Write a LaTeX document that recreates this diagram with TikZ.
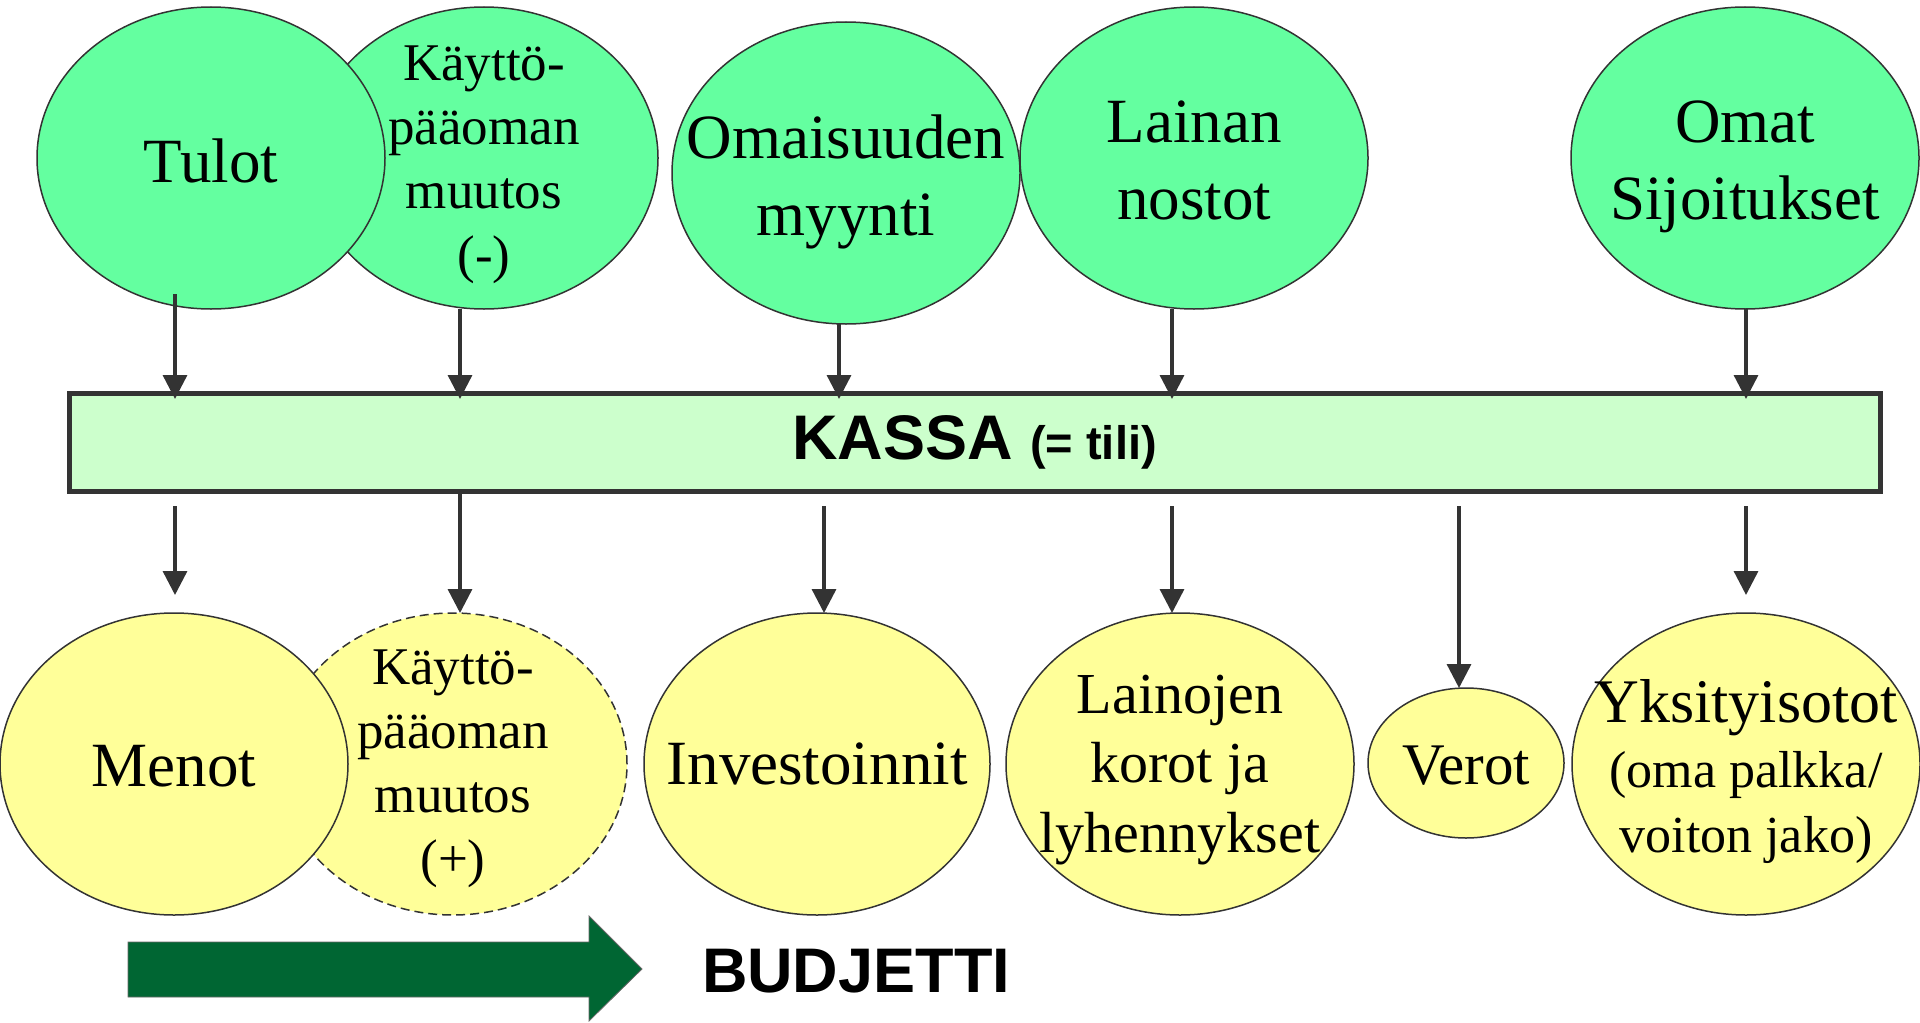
\documentclass[tikz,border=0pt]{standalone}
\usepackage{fontspec}
\setmainfont{Liberation Serif}
\newfontfamily\arialfont{Liberation Sans}
\usetikzlibrary{arrows.meta,calc,shapes.geometric}
\definecolor{topgreen}{RGB}{100,255,160}
\definecolor{botyellow}{RGB}{255,255,153}
\definecolor{kassagreen}{RGB}{204,255,204}
\definecolor{linegray}{RGB}{51,51,51}
\definecolor{darkgreen}{RGB}{0,102,51}
\begin{document}
\begin{tikzpicture}[x=0.5pt,y=-0.5pt,
  bubble/.style={ellipse, draw=linegray, line width=0.75pt, inner sep=0pt, outer sep=0pt,
                 minimum width=174pt, minimum height=151pt},
  topbubble/.style={bubble, fill=topgreen},
  botbubble/.style={bubble, fill=botyellow},
  lbl/.style={align=center, inner sep=0pt, outer sep=0pt, text=black},
  fbig/.style={font=\fontsize{31.5}{38.5}\selectfont},
  fmid/.style={font=\fontsize{29}{34.75}\selectfont},
  fsmall/.style={font=\fontsize{26.5}{32}\selectfont},
  fyks/.style={font=\fontsize{26}{32.5}\selectfont},
  sansbold/.style={font=\arialfont\bfseries\fontsize{31.5}{36}\selectfont},
  arr/.style={draw=linegray, line width=1.7pt, -{Triangle[width=12pt,length=12pt]}},
]
\useasboundingbox (0,0) rectangle (1920,1022);

% ---- top row (sources) ----
\node[topbubble, label={[lbl,fsmall,yshift=-3.35pt]center:Käyttö-\\pääoman\\muutos\\(-)}] (kminus) at (484,158) {};
\node[topbubble, label={[lbl,fbig,yshift=-1.4pt]center:Tulot}] (tulot) at (211,158) {};
\node[topbubble, label={[lbl,fbig,yshift=-4.45pt]center:Omaisuuden\\myynti}] (omais) at (846,173) {};
\node[topbubble, label={[lbl,fbig,yshift=-1.15pt]center:Lainan\\nostot}] (lainan) at (1194,158) {};
\node[topbubble, label={[lbl,fbig,yshift=-4.5pt]center:Omat\\Sijoitukset}] (omat) at (1745,158) {};

% ---- KASSA ----
\node[draw=linegray, line width=2.5pt, fill=kassagreen, inner sep=0pt, outer sep=0pt,
      minimum width=905.5pt, minimum height=49pt, sansbold] (kassa) at (974.5,442)
      {KASSA {\fontsize{23.5}{28}\selectfont (= tili)}};

% ---- bottom row (uses) ----
\node[botbubble, dash pattern=on 4.5pt off 2.5pt,
      label={[lbl,fsmall,yshift=-2.6pt]center:Käyttö-\\pääoman\\muutos\\(+)}] (kplus) at (453,764) {};
\node[botbubble, label={[lbl,fbig,yshift=-1pt]center:Menot}] (menot) at (174,764) {};
\node[botbubble, minimum width=173pt, label={[lbl,fbig]center:Investoinnit}] (invest) at (817,764) {};
\node[botbubble, label={[lbl,fmid,yshift=-3pt]center:Lainojen\\korot ja\\lyhennykset}] (lainojen) at (1180,764) {};
\node[botbubble, minimum width=98pt, minimum height=75pt,
      label={[lbl,font=\fontsize{29.5}{34}\selectfont,yshift=-1.25pt]center:Verot}] (verot) at (1466,763) {};
\node[botbubble, label={[lbl,fyks,yshift=-3.75pt]center:{{\fontsize{31}{32.5}\selectfont Yksityisotot}\\(oma palkka/\\voiton jako)}}] (yks) at (1746,764) {};

% ---- arrow columns ----
\coordinate (c1) at (175,0);
\coordinate (c2) at (460,0);
\coordinate (c3) at (839,0);
\coordinate (c3b) at (824,0);
\coordinate (c4) at (1172,0);
\coordinate (c5) at (1459,0);
\coordinate (c6) at (1746,0);

% sources -> KASSA
\draw[arr] ($(c1 |- tulot.south)+(0,-15)$) -- ($(c1 |- kassa.north)+(0,6)$);
\draw[arr] (c2 |- kminus.south) -- ($(c2 |- kassa.north)+(0,6)$);
\draw[arr] (c3 |- omais.south) -- ($(c3 |- kassa.north)+(0,6)$);
\draw[arr] (c4 |- lainan.south) -- ($(c4 |- kassa.north)+(0,6)$);
\draw[arr] (c6 |- omat.south) -- ($(c6 |- kassa.north)+(0,6)$);

% KASSA -> uses
\draw[arr] ($(c1 |- kassa.south)+(0,15)$) -- ($(c1 |- menot.north)+(0,-18)$);
\draw[arr] (c2 |- kassa.south) -- (c2 |- kplus.north);
\draw[arr] ($(c3b |- kassa.south)+(0,15)$) -- (c3b |- invest.north);
\draw[arr] ($(c4 |- kassa.south)+(0,15)$) -- (c4 |- lainojen.north);
\draw[arr] ($(c5 |- kassa.south)+(0,15)$) -- (c5 |- verot.north);
\draw[arr] ($(c6 |- kassa.south)+(0,15)$) -- ($(c6 |- yks.north)+(0,-18)$);

% ---- BUDJETTI block arrow ----
\draw[fill=darkgreen, draw=black!60, line width=0.4pt]
  (128,942) -- (589,942) -- (589,916) -- (642,969) -- (589,1021) -- (589,997) -- (128,997) -- cycle;
\node[sansbold, inner sep=0pt] (budjetti) at (856,971) {BUDJETTI};
\end{tikzpicture}
\end{document}
